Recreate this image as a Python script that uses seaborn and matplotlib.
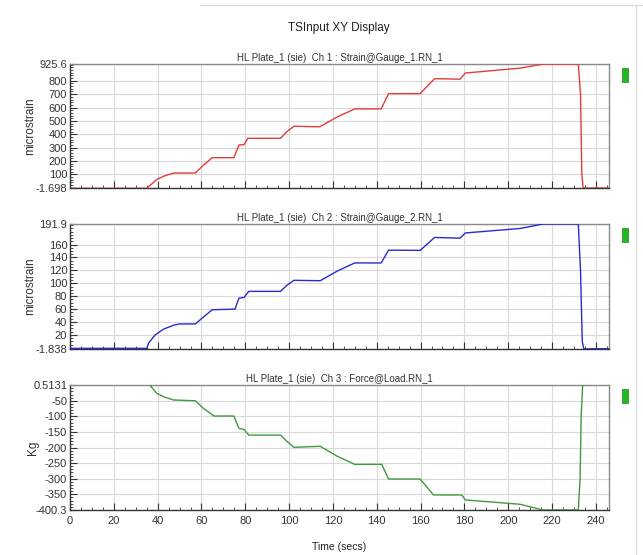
import matplotlib
matplotlib.use("Agg")
import matplotlib.pyplot as plt
from matplotlib.ticker import MultipleLocator
from matplotlib.patches import Rectangle
from matplotlib.lines import Line2D
import seaborn as sns
import pandas as pd

sns.set_theme(style="white")
plt.rcParams['font.family'] = ['Liberation Sans', 'DejaVu Sans']

# ---- data ----
t_ch1 = [0, 35, 36, 39.6, 43, 47.3, 57.2, 61, 64.9, 74.8, 77.1, 79.4, 81.2, 96.1, 99, 102.2,
         114, 122, 130, 142, 145.4, 159.8, 166.4, 178, 180.4, 205.5, 216, 232, 233, 233.6, 234.2, 246]
v_ch1 = [-4, -4, 10, 62, 88, 110, 110, 170, 225, 225, 320, 322, 370, 370, 420, 460,
         456, 530, 590, 590, 704, 704, 816, 812, 858, 895, 925, 925, 700, 100, -1.6, -1.6]

t_ch2 = [0, 35, 36, 38.9, 42.7, 47.3, 50, 57.2, 61, 64.9, 75.3, 77.1, 79.4, 81.6, 96.1, 99, 102.2,
         114.2, 122, 130, 142, 145.4, 159.8, 166.4, 178, 180.4, 205.5, 216, 232, 233, 233.8, 234.5, 246]
v_ch2 = [-0.8, -0.8, 8, 20, 29, 35, 37, 37, 48, 59, 60, 77, 78, 87.5, 87.5, 97, 104.6,
         104, 119, 131.6, 131.5, 151.4, 151, 171, 170, 178, 185, 191.9, 191.9, 120, 10, -1.5, -1.5]

t_ch3 = [0, 36.1, 39.6, 43, 47.3, 57.2, 61, 65.8, 74.8, 77.1, 79.4, 81.6, 96.1, 99, 102.2,
         114.2, 122, 130, 142.3, 145.4, 159.8, 165.9, 178.8, 180.4, 205.5, 215.6, 232, 232.8, 233.3, 234, 246]
v_ch3 = [3, 3, -26, -38, -47.6, -50, -75, -99, -99, -138.5, -142, -160, -160, -180, -199.4,
         -196, -228, -254, -254, -301, -301, -352, -352, -368, -382, -400, -400, -300, -100, 3, 3]

titles = ["HL Plate_1 (sie)  Ch 1 : Strain@Gauge_1.RN_1",
          "HL Plate_1 (sie)  Ch 2 : Strain@Gauge_2.RN_1",
          "HL Plate_1 (sie)  Ch 3 : Force@Load.RN_1"]
ylabels = ["microstrain", "microstrain", "Kg"]
ylims = [(-1.698, 925.6), (-1.838, 191.9), (-400.3, 0.5131)]
yticks = [[-1.698, 100, 200, 300, 400, 500, 600, 700, 800, 925.6],
          [-1.838, 20, 40, 60, 80, 100, 120, 140, 160, 191.9],
          [-400.3, -350, -300, -250, -200, -150, -100, -50, 0.5131]]
yticklabels = [["-1.698", "100", "200", "300", "400", "500", "600", "700", "800", "925.6"],
               ["-1.838", "20", "40", "60", "80", "100", "120", "140", "160", "191.9"],
               ["-400.3", "-350", "-300", "-250", "-200", "-150", "-100", "-50", "0.5131"]]
yminor = [20, 5, 10]
xticks = [0, 20, 40, 60, 80, 100, 120, 140, 160, 180, 200, 220, 240]
colors = ["#e23c3c", "#2a2ad0", "#3f9a3f"]

series = [(t_ch1, v_ch1), (t_ch2, v_ch2), (t_ch3, v_ch3)]

W, H = 643, 555
fig = plt.figure(figsize=(W / 100, H / 100), dpi=100)
fig.patch.set_facecolor("white")

ax_px = [(64, 188), (224, 349), (385, 510)]
ylab_x = [30, 30, 33]
left, right = 70, 609

for i, ((t, v), (top, bot)) in enumerate(zip(series, ax_px)):
    ax = fig.add_axes([left / W, 1 - bot / H, (right - left) / W, (bot - top) / H])
    df = pd.DataFrame({"t": t, "v": v})
    sns.lineplot(data=df, x="t", y="v", ax=ax, color=colors[i], linewidth=1.0,
                 sort=False, estimator=None, zorder=3)
    ax.set_xlim(0, 246)
    ax.set_ylim(*ylims[i])
    ax.set_xticks(xticks)
    ax.xaxis.set_minor_locator(MultipleLocator(5))
    ax.set_yticks(yticks[i])
    ax.set_yticklabels(yticklabels[i])
    ax.yaxis.set_minor_locator(MultipleLocator(yminor[i]))
    ax.grid(True, which="major", color="#d9d9d9", linewidth=0.8)
    ax.set_axisbelow(True)
    ax.tick_params(axis="both", which="major", direction="in", length=5, width=0.8,
                   colors="#333333", labelsize=8, pad=2, bottom=True, left=True)
    ax.tick_params(axis="x", which="major", pad=4)
    ax.tick_params(axis="both", which="minor", direction="in", length=2.5, width=0.6,
                   colors="#333333", bottom=True, left=True)
    ax.set_xlabel("")
    if i < 2:
        ax.tick_params(axis="x", labelbottom=False)
    ax.set_ylabel("")
    fig.text(ylab_x[i] / W, 1 - ((top + bot) / 2) / H, ylabels[i], rotation=90,
             ha="center", va="center", fontsize=8.5, color="#333333")
    ax.set_title(titles[i], fontsize=7, color="#333333", pad=2)
    for s in ["left", "bottom"]:
        ax.spines[s].set_color("#333333")
        ax.spines[s].set_linewidth(1.0)
    for s in ["top", "right"]:
        ax.spines[s].set_color("#8a8a8a")
        ax.spines[s].set_linewidth(1.0)
        ax.spines[s].set_visible(True)
    # status indicator
    fig.patches.append(Rectangle((622 / W, 1 - (top + 4) / H), 6 / W, -14 / H,
                                 transform=fig.transFigure, facecolor="#22b822",
                                 edgecolor="#1a8a1a", linewidth=0.5))

fig.text(339 / W, 1 - 28 / H, "TSInput XY Display", ha="center", va="center",
         fontsize=8.5, color="#222222")
fig.text(339 / W, 1 - 547 / H, "Time (secs)", ha="center", va="center",
         fontsize=7.5, color="#222222")

# light frame lines
fig.lines.append(Line2D([200 / W, 1], [1 - 5 / H, 1 - 5 / H], transform=fig.transFigure,
                        color="#dddddd", linewidth=1))
fig.lines.append(Line2D([636 / W, 636 / W], [0, 1 - 5 / H], transform=fig.transFigure,
                        color="#dddddd", linewidth=1))

fig.savefig("out.png", dpi=100, facecolor="white")
